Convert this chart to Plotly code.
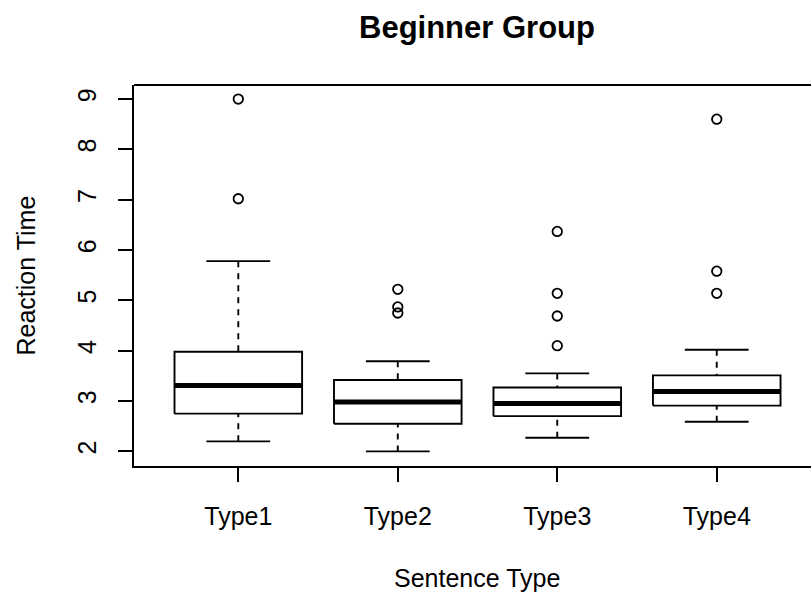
import plotly.graph_objects as go

# ---- data ----
categories = ["Type1", "Type2", "Type3", "Type4"]
lower_whisker = [2.20, 2.00, 2.27, 2.59]
q1 = [2.75, 2.55, 2.70, 2.91]
median = [3.31, 2.98, 2.95, 3.19]
q3 = [3.98, 3.42, 3.27, 3.51]
upper_whisker = [5.78, 3.79, 3.55, 4.02]
outliers = [
    [7.02, 9.00],
    [4.75, 4.87, 5.22],
    [4.10, 4.69, 5.14, 6.37],
    [5.14, 5.58, 8.60],
]
y_ticks = [2, 3, 4, 5, 6, 7, 8, 9]

# ---- styling ----
FONT = "Liberation Sans, Arial, sans-serif"
BOX_HALF = 0.4
CAP_HALF = 0.2
LW = 1.9

pos = list(range(1, len(categories) + 1))

box_x, box_y = [], []
med_x, med_y = [], []
cap_x, cap_y = [], []
wh_x, wh_y = [], []
out_x, out_y = [], []
for i, p in enumerate(pos):
    box_x += [p - BOX_HALF, p + BOX_HALF, p + BOX_HALF, p - BOX_HALF, p - BOX_HALF, None]
    box_y += [q1[i], q1[i], q3[i], q3[i], q1[i], None]
    med_x += [p - BOX_HALF, p + BOX_HALF, None]
    med_y += [median[i], median[i], None]
    cap_x += [p - CAP_HALF, p + CAP_HALF, None, p - CAP_HALF, p + CAP_HALF, None]
    cap_y += [lower_whisker[i], lower_whisker[i], None, upper_whisker[i], upper_whisker[i], None]
    wh_x += [p, p, None, p, p, None]
    wh_y += [lower_whisker[i], q1[i], None, upper_whisker[i], q3[i], None]
    out_x += [p] * len(outliers[i])
    out_y += outliers[i]

fig = go.Figure()
fig.add_trace(go.Scatter(x=wh_x, y=wh_y, mode="lines",
                         line=dict(color="black", width=LW, dash="6px,6px"),
                         hoverinfo="skip", showlegend=False))
fig.add_trace(go.Scatter(x=cap_x, y=cap_y, mode="lines",
                         line=dict(color="black", width=LW),
                         hoverinfo="skip", showlegend=False))
fig.add_trace(go.Scatter(x=box_x, y=box_y, mode="lines", fill="toself",
                         fillcolor="white",
                         line=dict(color="black", width=LW),
                         hoverinfo="skip", showlegend=False))
fig.add_trace(go.Scatter(x=med_x, y=med_y, mode="lines",
                         line=dict(color="black", width=5),
                         hoverinfo="skip", showlegend=False))
fig.add_trace(go.Scatter(x=out_x, y=out_y, mode="markers",
                         marker=dict(symbol="circle-open", size=9.5,
                                     color="black", line=dict(width=1.8)),
                         hoverinfo="skip", showlegend=False))

fig.update_layout(
    width=811, height=594,
    margin=dict(l=134, r=0, t=85, b=128),
    paper_bgcolor="white", plot_bgcolor="white",
    font=dict(family=FONT, color="black", size=25),
    showlegend=False,
    xaxis=dict(
        range=[0.346, 4.591],
        tickvals=pos, ticktext=categories,
        showgrid=False, zeroline=False,
        showline=True, linecolor="black", linewidth=2,
        ticks="outside", ticklen=14, tickwidth=1.8, tickcolor="black",
        tickfont=dict(size=25, family=FONT),
        ticklabelstandoff=13,
    ),
    yaxis=dict(
        range=[1.71, 9.28],
        tickvals=y_ticks,
        showgrid=False, zeroline=False,
        showline=True, linecolor="black", linewidth=2,
        ticks="outside", ticklen=14, tickwidth=1.8, tickcolor="black",
        tickangle=-90,
        tickfont=dict(size=25, family=FONT),
        ticklabelstandoff=12,
    ),
    shapes=[dict(type="line", xref="paper", yref="paper",
                 x0=0, x1=1, y0=1, y1=1,
                 line=dict(color="black", width=2))],
    annotations=[
        dict(text="<b>Beginner Group</b>", xref="paper", yref="paper",
             x=(477 - 134) / 677, y=1, yshift=58, xanchor="center", yanchor="middle",
             showarrow=False, font=dict(size=31, family=FONT)),
        dict(text="Sentence Type", xref="paper", yref="paper",
             x=(477 - 134) / 677, y=0, yshift=-(578 - 466), xanchor="center", yanchor="middle",
             showarrow=False, font=dict(size=25, family=FONT)),
        dict(text="Reaction Time", xref="paper", yref="paper",
             x=0, xshift=-(134 - 25), y=0.5, textangle=-90,
             xanchor="center", yanchor="middle",
             showarrow=False, font=dict(size=25, family=FONT)),
    ],
)

fig.write_html("out.html")
